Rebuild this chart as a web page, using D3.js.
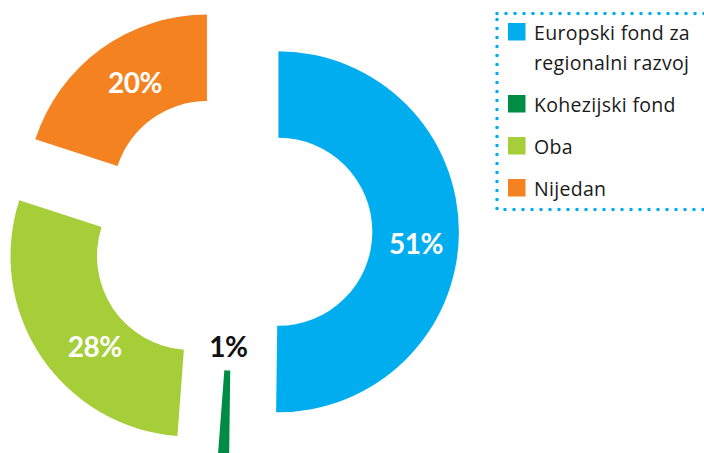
<!DOCTYPE html>
<html>
<head>
<meta charset="utf-8">
<script src="https://cdn.jsdelivr.net/npm/d3@7/dist/d3.min.js"></script>
<style>
  html, body { margin: 0; padding: 0; background: #ffffff; }
  svg { display: block; }
</style>
</head>
<body>
<svg id="chart" width="704" height="453"></svg>
<script>
// ---- data ----
const categories = ["Europski fond za regionalni razvoj", "Kohezijski fond", "Oba", "Nijedan"];
const legendLines = [["Europski fond za", "regionalni razvoj"], ["Kohezijski fond"], ["Oba"], ["Nijedan"]];
const values = [50.2, 1.0, 28.8, 20.0];          // slice sizes as drawn
const valueLabels = ["51%", "1%", "28%", "20%"];   // printed labels
const colors = ["#00aeef", "#008c44", "#a6ce39", "#f58220"];

// ---- layout ----
const cx = 233.4, cy = 231.5;
const rOuter = 180.5, rInner = 94;
// explosion per slice: distance and direction tweak (degrees) relative to slice mid-angle
const explodeCfg = [
  { dist: 45, turn: 0 },
  { dist: 45, turn: 0 },
  { dist: 49, turn: 3.8 },
  { dist: 45, turn: 0 }
];
const labelCfg = [
  { shift: 4.4, r: 138, color: "#ffffff" },
  { shift: 0, r: 70, color: "#111111" },
  { shift: -9.4, r: 132, color: "#ffffff" },
  { shift: 3.5, r: 134, color: "#ffffff" }
];
const rad = Math.PI / 180;

const svg = d3.select("#chart");

const pie = d3.pie().sort(null).value(d => d).startAngle(0).endAngle(2 * Math.PI);
const arcs = pie(values);
const arc = d3.arc().innerRadius(rInner).outerRadius(rOuter);

const g = svg.append("g");
const slices = g.selectAll("g.slice").data(arcs).enter().append("g")
  .attr("class", "slice")
  .attr("transform", (d, i) => {
    const a = (d.startAngle + d.endAngle) / 2 + explodeCfg[i].turn * rad;
    const x = cx + explodeCfg[i].dist * Math.sin(a);
    const y = cy - explodeCfg[i].dist * Math.cos(a);
    return `translate(${x},${y})`;
  });

slices.append("path")
  .attr("d", arc)
  .attr("fill", (d, i) => colors[i]);

slices.append("text")
  .attr("x", (d, i) => {
    const a = (d.startAngle + d.endAngle) / 2 + labelCfg[i].shift * rad;
    return labelCfg[i].r * Math.sin(a);
  })
  .attr("y", (d, i) => {
    const a = (d.startAngle + d.endAngle) / 2 + labelCfg[i].shift * rad;
    return -labelCfg[i].r * Math.cos(a);
  })
  .attr("text-anchor", "middle")
  .attr("dominant-baseline", "central")
  .attr("font-family", "Lato, 'Open Sans', sans-serif")
  .attr("font-weight", 700)
  .attr("font-size", 28)
  .attr("letter-spacing", -0.5)
  .attr("fill", (d, i) => labelCfg[i].color)
  .text((d, i) => valueLabels[i]);

// ---- legend ----
const lg = svg.append("g");
lg.append("rect")
  .attr("x", 497).attr("y", 13.5)
  .attr("width", 230).attr("height", 196)
  .attr("fill", "none")
  .attr("stroke", "#00aeef")
  .attr("stroke-width", 3.6)
  .attr("stroke-linecap", "round")
  .attr("stroke-dasharray", "0 9");

const itemTops = [];
let yy = 23;
legendLines.forEach((lines) => {
  itemTops.push(yy);
  yy += 42 + (lines.length - 1) * 30;
});

const items = lg.selectAll("g.item").data(categories).enter().append("g")
  .attr("class", "item")
  .attr("transform", (d, i) => `translate(508,${itemTops[i]})`);

items.append("rect")
  .attr("width", 17.5).attr("height", 17.5)
  .attr("fill", (d, i) => colors[i]);

items.each(function(d, i) {
  const t = d3.select(this).append("text")
    .attr("font-family", "'Open Sans', sans-serif")
    .attr("font-size", 19.5)
    .attr("letter-spacing", 0.3)
    .attr("fill", "#1a1a1a");
  legendLines[i].forEach((ln, j) => {
    t.append("tspan").attr("x", 26).attr("y", 16.5 + j * 30).text(ln);
  });
});
</script>
</body>
</html>
